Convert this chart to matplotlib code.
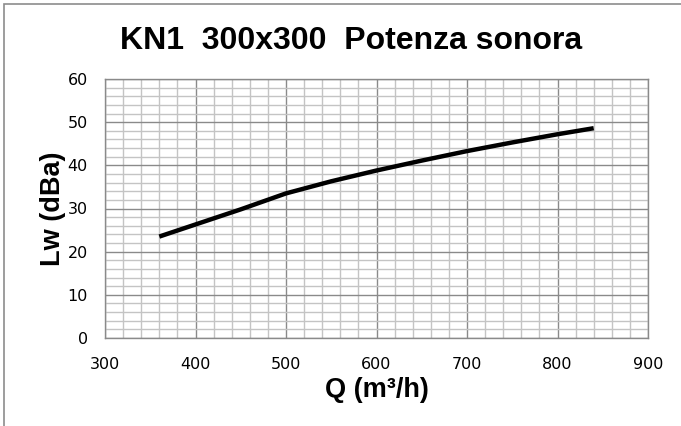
import matplotlib
matplotlib.use("Agg")
from matplotlib import pyplot as plt
from matplotlib.patches import Rectangle

portata = [360, 400, 450, 500, 550, 600, 650, 700, 750, 800, 840]
potenza = [23.5, 26.3, 29.8, 33.5, 36.3, 38.8, 41.1, 43.3, 45.3, 47.2, 48.6]

x_ticks = [300, 400, 500, 600, 700, 800, 900]
y_ticks = [0, 10, 20, 30, 40, 50, 60]

titolo = "KN1  300x300  Potenza sonora"
label_x = "Q (m³/h)"
label_y = "Lw (dBa)"

fig = plt.figure(figsize=(6.81, 4.26), dpi=100)
ax = fig.add_axes([105 / 681, 1 - 338 / 426, 543 / 681, 259 / 426])

# cornice grigia del grafico
fig.patches.append(Rectangle((4 / 681, -0.1), 1.2, 1.1 - 4 / 426, transform=fig.transFigure,
                             fill=False, edgecolor="#8c8c8c", linewidth=1.2))

ax.set_xlim(300, 900)
ax.set_ylim(0, 60)
ax.set_xticks(x_ticks)
ax.set_yticks(y_ticks)
ax.set_xticks(range(300, 901, 20), minor=True)
ax.set_yticks(range(0, 61, 2), minor=True)
ax.grid(which="minor", color="#c4c4c4", linewidth=1.0)
ax.grid(which="major", color="#8a8a8a", linewidth=1.0)
ax.set_axisbelow(True)
for s in ax.spines.values():
    s.set_color("#8a8a8a")
    s.set_linewidth(1.0)
ax.tick_params(which="both", length=0)
ax.tick_params(axis="x", pad=13.5, labelsize=11.5)
ax.tick_params(axis="y", pad=12.5, labelsize=11.5)

ax.plot(portata, potenza, color="black", linewidth=3.2, solid_capstyle="butt")

fig.text(351 / 681, 1 - 49 / 426, titolo, ha="center", va="baseline",
         fontsize=23, fontweight="bold", family="Liberation Sans")
ax.set_xlabel(label_x, fontsize=19.5, fontweight="bold", family="Liberation Sans", labelpad=3.5)
ax.set_ylabel(label_y, fontsize=19.5, fontweight="bold", family="Liberation Sans", labelpad=1)

fig.savefig("out.png", dpi=100)
